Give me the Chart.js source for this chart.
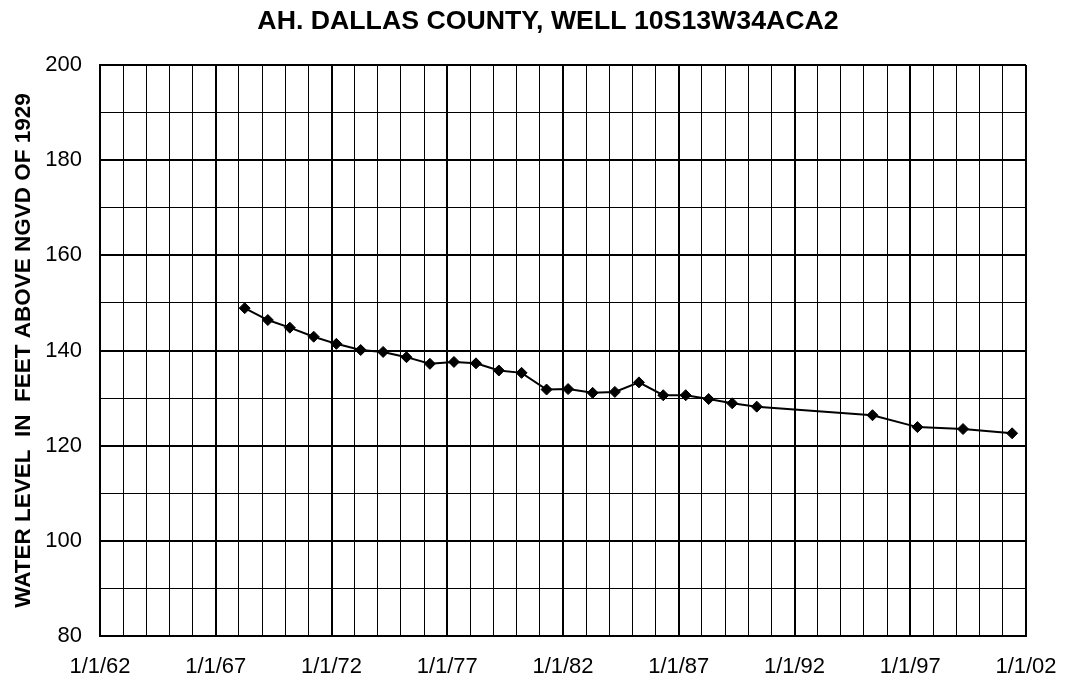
<!DOCTYPE html>
<html>
<head>
<meta charset="utf-8">
<script src="https://cdn.jsdelivr.net/npm/chart.js@4.4.1/dist/chart.umd.min.js"></script>
<style>
  html, body { margin: 0; padding: 0; background: #ffffff; }
  #wrap { width: 1065px; height: 681px; position: relative; }
</style>
</head>
<body>
<div id="wrap"><canvas id="c"></canvas></div>
<script>
// ---- data ----
const chartTitle = 'AH. DALLAS COUNTY, WELL 10S13W34ACA2';
const yAxisTitle = 'WATER LEVEL  IN  FEET ABOVE NGVD OF 1929';
// measurement dates as decimal years
const measureYears = [1968.25, 1969.25, 1970.20, 1971.23, 1972.21, 1973.26, 1974.23, 1975.24,
  1976.25, 1977.29, 1978.24, 1979.23, 1980.21, 1981.29, 1982.22, 1983.28, 1984.24, 1985.28,
  1986.33, 1987.30, 1988.29, 1989.31, 1990.37, 1995.37, 1997.31, 1999.28, 2001.40];
const waterLevels = [148.9, 146.4, 144.8, 142.9, 141.4, 140.1, 139.7, 138.6,
  137.2, 137.6, 137.3, 135.8, 135.3, 131.8, 131.9, 131.1, 131.3, 133.3,
  130.6, 130.6, 129.8, 128.9, 128.2, 126.4, 123.9, 123.5, 122.6];
const xTickYears = [1962, 1967, 1972, 1977, 1982, 1987, 1992, 1997, 2002];
const xTickLabels = ['1/1/62', '1/1/67', '1/1/72', '1/1/77', '1/1/82', '1/1/87', '1/1/92', '1/1/97', '1/1/02'];
const yTickValues = [80, 100, 120, 140, 160, 180, 200];
const yTickLabels = ['80', '100', '120', '140', '160', '180', '200'];

const FONT = "'Liberation Sans', Arial, Helvetica, sans-serif";

const titlePlugin = {
  id: 'centeredTitle',
  afterDraw(chart) {
    const ctx = chart.ctx;
    ctx.save();
    ctx.font = 'bold 26.7px ' + FONT;
    ctx.fillStyle = '#000';
    ctx.textAlign = 'center';
    ctx.textBaseline = 'middle';
    ctx.fillText(chartTitle, 548, 22);
    ctx.restore();
  }
};

const bgPlugin = {
  id: 'bg',
  beforeDraw(chart) {
    const ctx = chart.ctx;
    ctx.save();
    ctx.fillStyle = '#ffffff';
    ctx.fillRect(0, 0, chart.width, chart.height);
    ctx.restore();
  }
};

const points = measureYears.map((x, i) => ({ x: x, y: waterLevels[i] }));

new Chart(document.getElementById('c'), {
  type: 'scatter',
  data: {
    datasets: [{
      data: points,
      showLine: true,
      borderColor: '#000',
      borderWidth: 2,
      backgroundColor: '#000',
      pointStyle: 'rectRot',
      pointRadius: 5.5,
      pointHoverRadius: 5.5,
      pointBorderWidth: 1,
      pointBorderColor: '#000',
      pointBackgroundColor: '#000',
      tension: 0
    }]
  },
  options: {
    responsive: true,
    maintainAspectRatio: false,
    animation: false,
    layout: { padding: { top: 65, right: 39, bottom: 0, left: 0 } },
    plugins: {
      legend: { display: false },
      tooltip: { enabled: false },
      title: { display: false }
    },
    scales: {
      x: {
        type: 'linear',
        min: 1962,
        max: 2002,
        afterFit(scale) {
          scale.height = 45;
          scale.paddingLeft = 0;
          scale.paddingRight = 0;
        },
        afterBuildTicks(scale) {
          const t = [];
          for (let v = 1962; v <= 2002; v++) t.push({ value: v });
          scale.ticks = t;
        },
        ticks: {
          autoSkip: false,
          maxRotation: 0,
          minRotation: 0,
          padding: 18,
          color: '#000',
          font: { family: FONT, size: 22 },
          callback(v) {
            const i = xTickYears.indexOf(v);
            return i >= 0 ? xTickLabels[i] : '';
          }
        },
        grid: {
          drawTicks: false,
          color: '#000',
          lineWidth(ctx) {
            const v = ctx.tick ? ctx.tick.value : 0;
            return xTickYears.indexOf(v) >= 0 ? 2 : 1;
          }
        },
        border: { display: true, color: '#000', width: 2 }
      },
      y: {
        type: 'linear',
        min: 80,
        max: 200,
        afterFit(scale) {
          scale.width = 100;
          scale.paddingTop = 0;
          scale.paddingBottom = 0;
        },
        ticks: {
          stepSize: 10,
          autoSkip: false,
          padding: 18,
          color: '#000',
          font: { family: FONT, size: 22 },
          callback(v) {
            const i = yTickValues.indexOf(v);
            return i >= 0 ? yTickLabels[i] : '';
          }
        },
        grid: {
          drawTicks: false,
          color: '#000',
          lineWidth(ctx) {
            const v = ctx.tick ? ctx.tick.value : 0;
            return yTickValues.indexOf(v) >= 0 ? 2 : 1;
          }
        },
        border: { display: true, color: '#000', width: 2 },
        title: {
          display: true,
          text: yAxisTitle,
          color: '#000',
          font: { family: FONT, size: 22.5, weight: 'bold' },
          padding: { top: 10, bottom: 4 }
        }
      }
    }
  },
  plugins: [bgPlugin, titlePlugin]
});
</script>
</body>
</html>
